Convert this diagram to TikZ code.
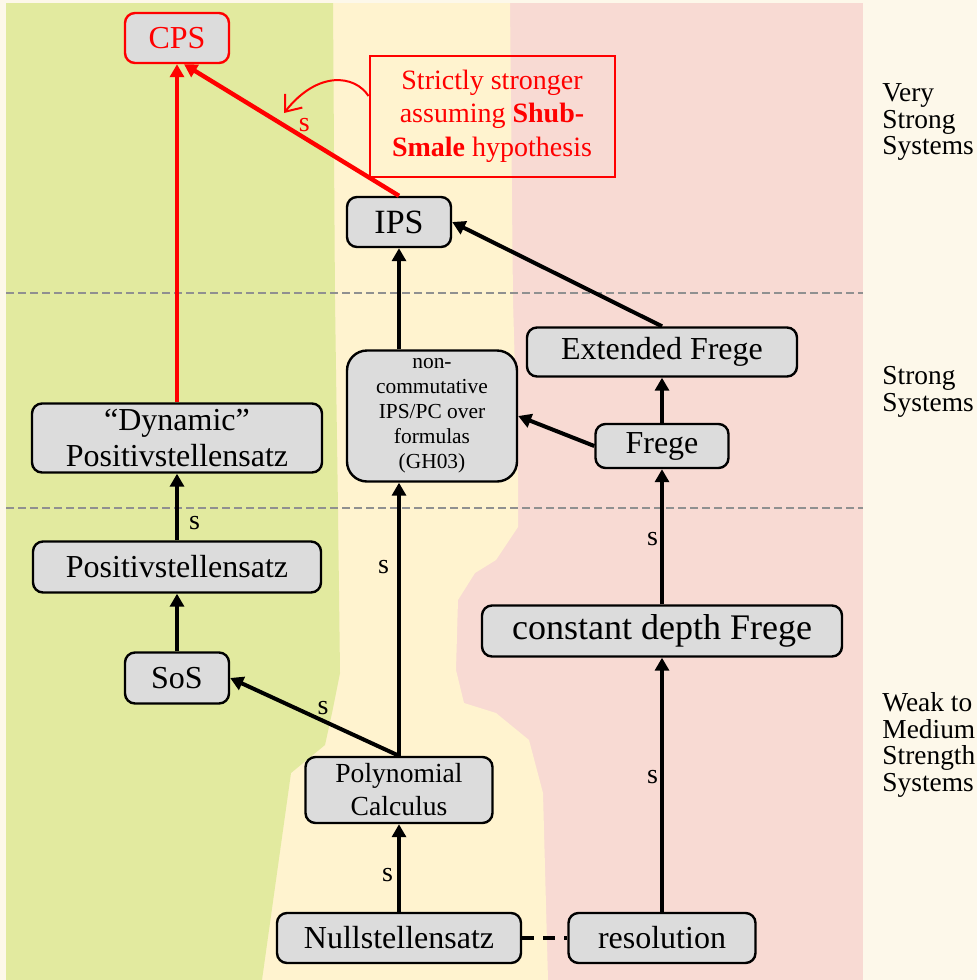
\documentclass[tikz,border=0pt]{standalone}
\usepackage{fontspec}
\setmainfont{Liberation Serif}
\usetikzlibrary{arrows.meta}
\definecolor{bgcream}{HTML}{FDF8EA}
\definecolor{weakgreen}{HTML}{E2EA9F}
\definecolor{midyellow}{HTML}{FFF3CF}
\definecolor{strongpink}{HTML}{F8DAD3}
\definecolor{boxgray}{HTML}{DCDCDC}
\definecolor{levelgray}{HTML}{909090}
\tikzset{
  sysbox/.style={draw, line width=1.2pt, rounded corners=5pt, fill=boxgray,
    inner sep=0pt, align=center, font=\fontsize{16}{18}\selectfont},
  sarrow/.style={line width=2pt, -{Triangle[length=6.5pt,width=7pt]}},
  redarrow/.style={sarrow, red, line width=2.2pt},
  slabel/.style={font=\fontsize{14}{16}\selectfont, inner sep=2pt},
  levelline/.style={levelgray, line width=0.6pt, dash pattern=on 4pt off 2pt},
  levellabel/.style={anchor=west, align=left, inner sep=0pt,
    font=\fontsize{13.7}{13.4}\selectfont},
  notebox/.style={draw=red, line width=1pt, text=red, align=center, inner sep=0pt,
    minimum width=122.5pt, minimum height=60.5pt, font=\fontsize{14}{16.75}\selectfont}
}
\begin{document}
\begin{tikzpicture}[x=0.5pt, y=-0.5pt]
  \useasboundingbox (0,0) rectangle (977,980);
  \fill[bgcream] (0,0) rectangle (977,980);
  \fill[strongpink] (6,3) rectangle (863,980);
  \fill[midyellow] (6,3) -- (510,3) -- (513,300) -- (518,480) -- (518,527) -- (496,560)
    -- (475,573) -- (458,600) -- (456,670) -- (464,703) -- (496,713) -- (529,740)
    -- (543,793) -- (548,980) -- (6,980) -- cycle;
  \fill[weakgreen] (6,3) -- (333,3) -- (335,300) -- (338,510) -- (340,673) -- (332,713)
    -- (325,745) -- (291,773) -- (262,980) -- (6,980) -- cycle;
  \foreach \y in {293, 508} {
    \draw[levelline] (6,\y) -- (863,\y);
  }

  \node[levellabel] (verystrong) at (882,122) {Very\\Strong\\Systems};
  \node[levellabel] (strong) at (882,392) {Strong\\Systems};
  \node[levellabel] (weak) at (882,745) {Weak to\\Medium\\Strength\\Systems};

  \node[sysbox, draw=red, text=red, minimum width=52pt, minimum height=25pt] (CPS) at (177,38) {CPS};
  \node[sysbox, minimum width=52pt, minimum height=25pt, font=\fontsize{17}{19}\selectfont] (IPS) at (399,222) {IPS};
  \node[sysbox, minimum width=135pt, minimum height=24.5pt] (EF) at (662,352) {Extended Frege};
  \node[sysbox, rounded corners=10pt, minimum width=85pt, minimum height=65.5pt,
    font=\fontsize{10.7}{12.5}\selectfont] (nc) at (432,416)
    {non-\\commutative\\IPS/PC over\\formulas\\(GH03)};
  \node[sysbox, minimum width=66.5pt, minimum height=22pt] (Frege) at (662,446) {Frege};
  \node[sysbox, minimum width=145pt, minimum height=34.5pt] (Dyn) at (177,438) {``Dynamic''\\Positivstellensatz};
  \node[sysbox, minimum width=144pt, minimum height=25.5pt] (Pos) at (177,567) {Positivstellensatz};
  \node[sysbox, minimum width=52pt, minimum height=25.5pt] (SoS) at (177,678) {SoS};
  \node[sysbox, minimum width=180pt, minimum height=25.5pt, font=\fontsize{18}{20}\selectfont] (cdF) at (662,631) {constant depth Frege};
  \node[sysbox, minimum width=93.5pt, minimum height=33pt, font=\fontsize{13.8}{16.5}\selectfont] (PC) at (399,790) {Polynomial\\Calculus};
  \node[sysbox, minimum width=122pt, minimum height=25pt] (Null) at (399,938) {Nullstellensatz};
  \node[sysbox, minimum width=93.5pt, minimum height=25pt] (res) at (662,938) {resolution};

  \node[notebox] (note) at (492,116) {Strictly stronger\\assuming \textbf{Shub-}\\\textbf{Smale} hypothesis};
  \coordinate (notetip) at (284,113);

  \draw[redarrow] (Dyn) -- (CPS);
  \draw[redarrow] (IPS.north) -- node[slabel, pos=0.44, above, text=red] {s} ([xshift=3.5pt]CPS.south);
  \draw[red, line width=1pt, -{Straight Barb[length=7pt,width=11pt]}]
    ([yshift=10pt]note.west) .. controls (355,75) and (318,70) .. (notetip);

  \draw[sarrow] (EF.north) -- (IPS.east);
  \draw[sarrow] (IPS.south |- nc.north) -- (IPS.south);
  \draw[sarrow] (Frege) -- (EF);
  \draw[sarrow] (Frege.west) -- (nc.east);
  \draw[sarrow] (Pos) -- node[slabel, pos=0.26, right, inner sep=5pt] {s} (Dyn);
  \draw[sarrow] (SoS) -- (Pos);
  \draw[sarrow] (PC.north) -- node[slabel, pos=0.45, above] {s} (SoS.east);
  \draw[sarrow] (PC.north) -- node[slabel, pos=0.69, left, inner sep=4pt] {s} (PC.north |- nc.south);
  \draw[sarrow] (Null) -- node[slabel, pos=0.42, left] {s} (PC);
  \draw[sarrow] (cdF) -- node[slabel, pos=0.48, left, inner sep=1pt] {s} (Frege);
  \draw[sarrow] (res) -- node[slabel, pos=0.53, left, inner sep=1pt] {s} (cdF);
  \draw[line width=2pt, dash pattern=on 6pt off 4.5pt] (Null) -- (res);
\end{tikzpicture}
\end{document}
